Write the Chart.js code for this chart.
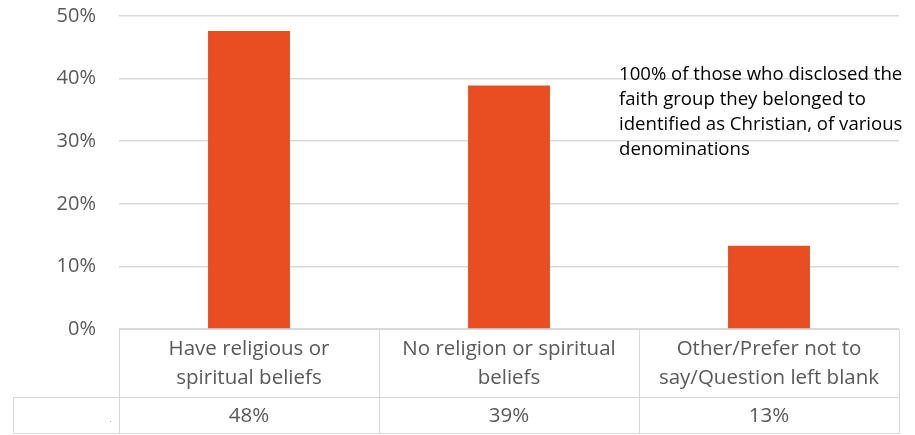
<!DOCTYPE html>
<html>
<head>
<meta charset="utf-8">
<script src="https://cdn.jsdelivr.net/npm/chart.js@4.4.0/dist/chart.umd.min.js"></script>
<style>
  body { margin: 0; background: #fff; }
  #wrap { width: 915px; height: 435px; position: relative; }
</style>
</head>
<body>
<div id="wrap"><canvas id="beliefChart"></canvas></div>
<script>
var categories = [
  ["Have religious or", "spiritual beliefs"],
  ["No religion or spiritual", "beliefs"],
  ["Other/Prefer not to", "say/Question left blank"]
];
var shares = [47.6, 38.9, 13.3];
var yTicks = [0, 10, 20, 30, 40, 50];
var noteLines = [
  "100% of those who disclosed the",
  "faith group they belonged to",
  "identified as Christian, of various",
  "denominations"
];

var barColor = "#E84E22";
var lineColor = "#D9D9D9";
var textColor = "#595959";
var fontName = "'Open Sans', sans-serif";

// data table under the bars, like an Excel chart with a data table
var dataTable = {
  id: "dataTable",
  afterDraw: function (chart) {
    var ctx = chart.ctx;
    var area = chart.chartArea;
    var xs = chart.scales.x;
    var step = area.width / categories.length;
    var top = area.bottom;
    var mid = top + 68;
    var bottom = top + 105;
    var keyLeft = 13;

    ctx.save();
    ctx.strokeStyle = lineColor;
    ctx.lineWidth = 1;
    ctx.beginPath();
    ctx.moveTo(area.left, top + 0.5);
    ctx.lineTo(area.right, top + 0.5);
    ctx.moveTo(keyLeft, mid + 0.5);
    ctx.lineTo(area.right, mid + 0.5);
    ctx.moveTo(keyLeft, bottom - 0.5);
    ctx.lineTo(area.right, bottom - 0.5);
    ctx.moveTo(keyLeft + 0.5, mid);
    ctx.lineTo(keyLeft + 0.5, bottom);
    for (var i = 0; i <= categories.length; i++) {
      var x = Math.round(area.left + i * step) + 0.5;
      ctx.moveTo(x, top);
      ctx.lineTo(x, bottom);
    }
    ctx.stroke();

    // small legend key mark
    ctx.fillStyle = "#A6A6A6";
    ctx.fillRect(area.left - 9, mid + 24, 1, 1);

    ctx.fillStyle = textColor;
    ctx.font = "20.5px " + fontName;
    ctx.textAlign = "center";
    ctx.textBaseline = "middle";
    categories.forEach(function (lines, i) {
      var cx = xs.getPixelForValue(i);
      lines.forEach(function (line, j) {
        ctx.fillText(line, cx, top + 20 + j * 29);
      });
      ctx.fillText(Math.round(shares[i]) + "%", cx, mid + 19);
    });

    // side note
    ctx.fillStyle = "#000";
    ctx.font = "18.6px " + fontName;
    ctx.textAlign = "left";
    ctx.textBaseline = "alphabetic";
    noteLines.forEach(function (line, j) {
      ctx.fillText(line, area.left + 500, area.top + 64 + j * 25);
    });
    ctx.restore();
  }
};

function chart() {
  new Chart("beliefChart", {
    type: "bar",
    data: {
      labels: categories,
      datasets: [{
        data: shares,
        backgroundColor: barColor,
        borderWidth: 0,
        categoryPercentage: 1,
        barPercentage: 0.315
      }]
    },
    options: {
      responsive: true,
      maintainAspectRatio: false,
      animation: false,
      layout: { padding: { top: 16, right: 16, bottom: 0, left: 0 } },
      plugins: {
        legend: { display: false },
        tooltip: { enabled: false }
      },
      scales: {
        x: {
          ticks: { display: false },
          grid: { display: false },
          border: { display: false },
          afterFit: function (scale) { scale.height = 106; }
        },
        y: {
          min: yTicks[0],
          max: yTicks[yTicks.length - 1],
          afterBuildTicks: function (scale) {
            scale.ticks = yTicks.map(function (v) { return { value: v }; });
          },
          ticks: {
            padding: 23,
            color: textColor,
            font: { family: fontName, size: 20 },
            callback: function (v) { return v + "%"; }
          },
          grid: { color: lineColor, lineWidth: 1.5, drawTicks: false },
          border: { display: false },
          afterFit: function (scale) {
            scale.width = 119;
            scale.paddingTop = 0;
            scale.paddingBottom = 0;
          }
        }
      }
    },
    plugins: [dataTable]
  });
}

chart();
</script>
</body>
</html>
